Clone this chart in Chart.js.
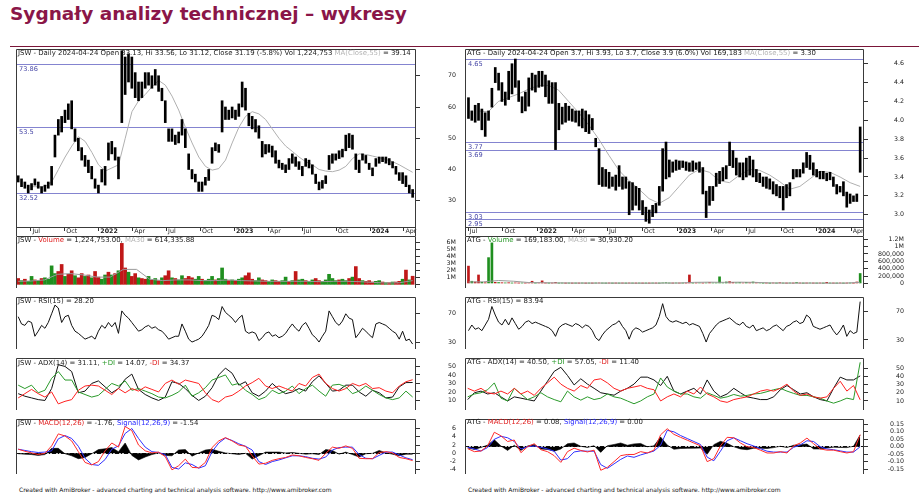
<!DOCTYPE html>
<html lang="pl"><head><meta charset="utf-8">
<script src="https://cdn.jsdelivr.net/npm/chart.js@4.4.1/dist/chart.umd.min.js"></script>
<style>
html,body{margin:0;padding:0;background:#fff;}
body{width:919px;height:497px;overflow:hidden;position:relative;font-family:"DejaVu Sans",sans-serif;}
#title{position:absolute;left:10px;top:3px;font-weight:bold;font-size:18.5px;line-height:22px;color:#8a1648;white-space:nowrap;}
#rule{position:absolute;left:10px;top:46px;width:909px;height:1px;background:#7a1538;}
.hdr{position:absolute;font-size:6.95px;line-height:8px;white-space:nowrap;color:#1a1a1a;z-index:2;}
.foot{position:absolute;font-size:6px;line-height:8px;white-space:nowrap;color:#111;}
.pane{position:absolute;}
.g{color:#b4b4b4}.r{color:#e02020}.gr{color:#2a9a2a}.b{color:#2a2aff}
</style></head>
<body>
<div id="title">Sygnały analizy technicznej – wykresy</div>
<div id="rule"></div>

<div class="hdr" style="left:18px;top:48.7px">JSW - Daily 2024-04-24 Open 33.13, Hi 33.56, Lo 31.12, Close 31.19 (-5.8%) Vol 1,224,753 <span class="g">MA(Close,55)</span> = 39.14</div>
<div class="hdr" style="left:18px;top:236px">JSW - <span class="r">Volume</span> = 1,224,753.00, <span class="g">MA30</span> = 614,335.88</div>
<div class="hdr" style="left:18px;top:297px">JSW - RSI(15) = 28.20</div>
<div class="hdr" style="left:18px;top:358.7px">JSW - ADX(14) = 31.11, <span class="gr">+DI</span> = 14.07, <span class="r">-DI</span> = 34.37</div>
<div class="hdr" style="left:18px;top:418.7px">JSW - <span class="r">MACD(12,26)</span> = -1.76, <span class="b">Signal(12,26,9)</span> = -1.54</div>
<div class="foot" style="left:19px;top:485.5px">Created with AmiBroker - advanced charting and technical analysis software. http://www.amibroker.com</div>

<div class="hdr" style="left:467px;top:48.7px">ATG - Daily 2024-04-24 Open 3.7, Hi 3.93, Lo 3.7, Close 3.9 (6.0%) Vol 169,183 <span class="g">MA(Close,55)</span> = 3.30</div>
<div class="hdr" style="left:467px;top:236px">ATG - <span class="gr">Volume</span> = 169,183.00, <span class="g">MA30</span> = 30,930.20</div>
<div class="hdr" style="left:467px;top:297px">ATG - RSI(15) = 83.94</div>
<div class="hdr" style="left:467px;top:357.7px">ATG - ADX(14) = 40.50, <span class="gr">+DI</span> = 57.05, <span class="r">-DI</span> = 11.40</div>
<div class="hdr" style="left:467px;top:417.7px">ATG - <span class="r">MACD(12,26)</span> = 0.08, <span class="b">Signal(12,26,9)</span> = 0.00</div>
<div class="foot" style="left:468px;top:485.5px">Created with AmiBroker - advanced charting and technical analysis software. http://www.amibroker.com</div>

<script>
// ---------------- DATA ----------------
const quarterNames = ['', 'Apr', 'Jul', 'Oct'];

// JSW
const jswFrom = '2021-05-28', jswTo = '2024-04-24', jswMAFrom = '2021-07-03';
const jswLow = [36,34.5,34,32.5,33.5,35,34,32.5,33,34, 35,44,51,52,55,56,53,49,46,43, 41,39,37,34,32.5,36,35,43,45,43,
 37,55,64,68,66,63,62,63,66,67, 66,67,65,62,55,49,49,48,48.5,51, 47,40,37,36,33,33,35,36.5,42,46,
 45.5,52,56,56,56.5,56,57,60,59,54, 53,52,50,44,45,45.5,44,42,40.5,40, 39,40,42,41,40,38,41,40.5,38.5,35.5,
 33.5,34,35.5,40,42,43,43.5,44,46,47, 46.5,40,39,43,42,40,38,41,42,42.5, 42,41.5,40.5,38.5,36.5,35.5,34.5,32.5,31.1];
const jswHigh = [38,37,36,35,35.5,37,36,34.5,35,36, 41,51,56,57,59,61,62,53,50,47, 44.5,43,41,37,35,40,41,48.5,49,47,
 44,78,76,77,76,71,68,68,71,71, 70,72,70,66,62,53,53,51,52,56, 53,45,40,38.5,36,36,37.5,40,47,48.5,
 48,62,60,59,60,59,61,68,66,58, 57,56,54,49,48,48,47.5,46,43,42, 41.5,43.5,45,44,42.5,41,43.5,43,41.5,38.5,
 36,36.5,38,44.5,45,45,46,46.5,51,51.5, 51,45,43,45,44.5,42,40.5,43.5,44,44, 44,43.5,42.5,41,39,39,38,35,33.6];
const jswMA55 = [34.5,34.5,34.5,36,40,44,47.5,50.5,49,45.5, 41.5,39.5,40.5,41.5,50,58.5,62,64,66.5,68.5,
 67,63.5,59,53.5,48.5,44,41,39.8,40.3,43, 48.5,53.5,57,58.5,57.8,56,53,50,47.5,45.8,
 44,42.5,41.5,40,39.5,39.3,39.8,41,43.5,45, 44.8,44.3,43.8,43.2,42.5,41.5,40.3,39.1];
const jswLevels = [73.86, 53.5, 32.52];
const jswVol = [900,600,800,500,1200,700,600,900,1000,800, 2700,1600,1900,2900,1200,1500,2000,1300,1000,1600,
 1200,1400,1000,1900,1100,800,1400,1800,1400,1600, 2000,5900,2400,1800,1200,1600,1000,900,800,1200,
 700,900,600,1000,1300,2000,1000,900,700,1300, 900,1200,1000,800,1200,800,600,800,1200,700,
 900,2400,800,600,700,600,800,1000,1300,1700, 800,600,1000,700,600,500,700,600,500,600,
 1100,500,600,1900,700,800,600,500,700,900, 600,500,700,1500,900,600,700,800,600,900,
 1100,2600,900,600,500,600,400,500,600,400, 300,300,400,400,500,800,2100,700,1225];
const jswVolDir = ('rgrggrgrgg'+'ggrrgrrgrr'+'grgrrggrgr'+'grrgrrgrrg'+'rgrgrrgrgg'+'rrrggrgggr'+'gggrgrggrr'+'rggrrggrrg'+'grgrggrggr'+'rgggggrggr'+'grrgrrrggr'+'grgrrgrgr').split('');
const jswVolMA = [500,550,700,1500,1600,1400,1100,1100,2200,2200, 800,600,700,700,600,600,700,600,550,500,
 500,500,500,450,500,500,450,350,250,300,600];
const jswRSI = [66,56,54,60,58,39,46,54,50,58, 70,82,78,58,66,68,54,46,43,39, 35,37,39,35,46,54,50,58,52,58,
 43,74,68,64,58,52,46,48,52,54, 50,52,48,46,41,35,37,39,39,56, 46,35,31,33,35,39,46,54,68,66,
 62,80,72,68,64,58,64,68,46,43, 45,43,33,37,43,45,39,41,37,39, 43,50,56,50,46,54,58,50,41,37,
 31,39,46,74,66,58,54,60,70,64, 62,37,43,50,46,41,37,56,58,56, 54,50,46,43,35,46,33,35,28.2];
const jswADX = [18,15,13,11,10,24,52,50,44,19, 21,30,33,26,19,24,35,41,23,17, 13,10,14,32,30,24,16,10,15,25,
 40,48,42,28,32,19,15,21,30,23, 18,20,24,21,32,39,30,21,22,28, 28,20,15,22,19,13,14,26,31,31.11];
const jswPDI = [28,24,28,19,22,36,44,34,34,20, 17,14,16,23,30,27,33,22,24,21, 18,14,13,16,20,28,15,19,25,34,
 37,40,28,30,22,17,11,14,22,18, 21,27,18,24,28,21,15,28,29,26, 18,21,27,22,17,13,11,13,21,14.07];
const jswMDI = [13,18,23,18,14,20,6,9,11,22, 27,28,27,22,17,24,19,24,21,26, 23,20,30,34,29,34,32,30,19,11,
 8,14,16,21,27,31,36,27,24,27, 24,21,30,27,37,41,30,24,21,24, 30,27,30,24,25,21,19,27,32,34.37];
const jswMACD = [1.0,0.5,0.1,-0.3,0.0,1.8,4.7,4.2,3.0,0.4, -2.2,-2.8,-2.0,0.6,2.5,1.5,6.5,5.5,2.0,0.6,
 0.1,0.3,-0.8,-4.0,-3.0,-1.4,-3.4,-3.5,-2.2,1.4, 3.0,3.8,3.0,2.0,1.7,-0.6,-2.6,-2.4,-1.7,-1.3,
 -1.0,-0.4,-0.6,-1.0,-1.3,-1.7,0.0,1.5,1.2,1.8, 1.2,-1.2,-1.3,-1.3,0.2,0.4,0.1,-1.0,-1.3,-1.76];
const jswSignal = [1.0,0.7,0.4,0.2,0.3,0.6,3.5,4.3,3.6,1.7, -1.2,-2.7,-2.9,-1.5,1.0,1.8,4.8,6.0,3.6,1.5,
 0.4,0.2,-0.3,-3.4,-3.8,-2.3,-2.7,-3.6,-3.0,0.4, 2.5,3.7,3.1,2.3,1.7,0.8,-2.0,-2.7,-2.0,-1.6,
 -1.1,-0.6,-0.6,-0.8,-1.2,-1.4,-0.9,0.8,1.4,1.5, 1.5,-0.3,-1.2,-1.3,-0.5,0.3,0.3,-0.4,-1.1,-1.54];
const jswHist = [-0.1,-0.2,-0.3,-0.5,-0.3,1.2,1.2,-0.1,-0.6,-1.3, -1.0,-0.1,0.9,1.1,1.4,0.4,2.5,-0.5,-1.6,-0.9,
 -0.3,0.1,-0.5,-0.6,0.8,0.9,-0.7,0.1,0.8,1.0, 0.5,0.1,-0.1,-0.3,0.0,-1.4,-0.6,0.3,0.3,0.3,
 0.1,0.2,0.0,-0.2,-0.1,-0.3,0.9,0.7,-0.2,0.3, -0.3,-0.9,-0.1,0.0,0.7,0.1,-0.2,-0.6,-0.2,-0.22];

// ATG
const atgFrom = '2021-07-02', atgTo = '2024-04-24', atgMAFrom = '2021-07-28', atgIndFrom = '2021-06-30';
const atgLow = [4.02,4.00,3.98,4.00,3.90,3.83,4.00,4.14,4.40,4.32, 4.20,4.16,4.22,4.28,4.35,4.20,4.08,4.10,4.15,4.32,
 4.30,4.35,4.36,4.25,4.18,4.18,3.69,3.90,3.96,3.98, 4.00,3.99,3.98,3.94,3.92,3.88,3.86,3.90,3.72,3.32,
 3.30,3.30,3.28,3.30,3.26,3.30,3.27,3.28,3.00,3.05, 3.10,3.05,3.00,2.93,2.91,2.98,3.02,3.10,3.25,3.38,
 3.40,3.45,3.47,3.48,3.50,3.47,3.46,3.46,3.48,3.45, 3.22,2.97,3.10,3.15,3.30,3.33,3.36,3.38,3.52,3.50,
 3.42,3.40,3.37,3.40,3.42,3.40,3.35,3.34,3.30,3.28, 3.27,3.22,3.20,3.18,3.05,3.18,3.20,3.38,3.40,3.40,
 3.44,3.50,3.48,3.42,3.40,3.38,3.38,3.36,3.37,3.30, 3.22,3.24,3.20,3.08,3.12,3.14,3.14,3.45];
const atgHigh = [4.24,4.10,4.16,4.18,4.12,4.08,4.10,4.34,4.56,4.50, 4.40,4.30,4.52,4.60,4.65,4.42,4.25,4.30,4.45,4.50,
 4.48,4.52,4.52,4.48,4.42,4.40,4.40,4.18,4.14,4.18, 4.15,4.12,4.10,4.10,4.12,4.10,4.06,4.02,3.81,3.70,
 3.50,3.48,3.45,3.40,3.42,3.52,3.40,3.40,3.35,3.34, 3.30,3.28,3.15,3.08,3.05,3.10,3.12,3.30,3.70,3.77,
 3.58,3.56,3.58,3.57,3.57,3.56,3.55,3.57,3.55,3.56, 3.50,3.25,3.30,3.30,3.44,3.46,3.50,3.52,3.77,3.68,
 3.60,3.55,3.55,3.60,3.62,3.58,3.48,3.44,3.40,3.40, 3.38,3.35,3.32,3.30,3.30,3.32,3.34,3.48,3.48,3.48,
 3.55,3.66,3.63,3.55,3.48,3.46,3.46,3.44,3.45,3.40, 3.32,3.30,3.35,3.24,3.22,3.20,3.22,3.93];
const atgMA55 = [4.10,4.09,4.20,4.24,4.28,4.33,4.37,4.37,4.32,4.20, 4.08,3.95,3.80,3.63,3.47,3.36,3.27,3.17,3.12,3.18,
 3.30,3.42,3.48,3.45,3.36,3.34,3.42,3.48,3.47,3.42, 3.35,3.27,3.30,3.38,3.46,3.45,3.40,3.34,3.30];
const atgLevels = [4.65, 3.77, 3.69, 3.03, 2.95];
const atgVol = [470,60,40,230,30,20,700,1100,30,25, 20,15,20,10,15,10,12,10,15,60, 10,15,70,10,8,10,30,8,10,6,
 8,5,7,6,9,5,8,6,10,12, 8,6,9,5,7,6,8,5,9,7, 6,8,5,7,6,9,8,6,15,20,
 10,8,12,9,10,11,230,10,12,15, 10,14,25,15,15,180,15,40,50,30, 20,25,15,30,20,40,25,15,8,10,
 6,12,8,20,9,7,11,8,25,10, 6,9,12,8,7,10,6,30,9,8, 7,12,6,9,10,8,40,270];
const atgVolDir = ('rgrrgrggrg'+'rgrgrrgrrr'+'grrrgrrggr'+'grgrgrgrgr'+'ggrgrgrgrg'+'rgrgrgrggg'+'grgrgrrgrg'+'rgrgggggrr'+'ggrgrgrggr'+'grgrgrgrgr'+'grgrgrgrgr'+'grgrgrrg').split('');
const atgVolMA = [40,45,80,60,25,20,15,12,10,10, 10,8,8,10,12,30,35,30,35,30, 15,10,10,10,8,8,31];
const atgRSI = [43,51,45,47,43,51,59,77,65,55, 51,59,51,61,53,45,49,55,57,53, 55,53,51,49,47,43,35,47,51,53,
 51,49,53,51,47,51,49,43,33,29, 37,43,47,51,53,57,49,43,31,43, 47,45,41,43,45,47,51,63,81,63,
 57,55,57,55,53,55,51,53,51,49, 39,27,39,45,51,55,57,59,61,57, 53,51,55,49,47,51,43,45,47,43,
 45,49,51,47,43,49,51,55,57,53, 55,65,61,49,47,45,47,49,51,43, 37,43,51,35,43,39,41,83.94];
const atgADX = [11.7,20,22,18.5,20,15,10,15,13.4,11.7, 10,22,34,46,51,41,29.5,37,30.5,25.4,
 20,18.5,17,22,25.4,30.5,39,39,35.6,28.8, 40,22,18.5,22,25.4,18.5,35.6,22,15,18.5,
 25.4,20,15,13.4,11.7,11.7,15,23.7,28.8,23.7, 18.5,20,15,11.7,10,25.4,39,35.6,35.6,40.5];
const atgPDI = [15,18.5,20,23.7,32,13.4,10,25.4,18.5,11.7, 15,20,15,11.7,9,22,15,11,15,11.7,
 13.4,18.5,15,13.4,10,6.6,10,15,18.5,38, 27,22,18.5,18.5,15,13.4,20,16.8,13.4,15,
 17.9,15.8,16.8,18.5,19.2,21.3,23.7,25.4,22,19.2, 16.8,16.8,15,13.4,10,7.3,10,13.4,11.7,57.05];
const atgMDI = [25.4,22,25.4,20,18.5,22,18.5,25.4,18.5,22, 16.8,25.4,32,39,30.5,25.4,22,28.8,25.4,35.6,
 37,32,25.4,22,25.4,27,28.8,25.4,23.7,10, 15,18.5,15,22,18.5,27,18.5,15,10,8.3,
 11.7,13.4,15,18.5,22,23.7,22,25.4,30.5,22, 16.8,18.5,15,13.4,15,25.4,34,22,28.8,11.4];
const atgMACD = [-0.013,-0.033,-0.029,0.006,0.097,0.073,0.035,0.045,-0.040,0.000,
 0.020,-0.020,-0.033,-0.060,-0.105,-0.033,-0.010,-0.025,-0.035,-0.023,
 -0.158,-0.138,-0.100,-0.060,-0.052,-0.052,-0.033,-0.042,-0.023,0.080,
 0.121,0.083,0.063,0.044,0.025,0.006,-0.100,-0.080,0.006,0.063,
 0.060,0.025,0.000,-0.005,-0.023,-0.042,-0.042,-0.033,-0.042,0.006,
 0.025,0.058,0.020,-0.015,-0.023,-0.023,-0.033,-0.042,-0.033,0.08];
const atgSignal = [-0.004,-0.015,-0.029,-0.005,0.050,0.070,0.060,0.035,-0.015,0.000,
 0.005,-0.004,-0.015,-0.030,-0.090,-0.080,-0.035,-0.028,-0.030,-0.030,
 -0.120,-0.145,-0.115,-0.085,-0.062,-0.071,-0.055,-0.042,-0.029,0.010,
 0.110,0.100,0.075,0.055,0.035,0.015,-0.070,-0.094,-0.030,0.040,
 0.060,0.040,0.020,0.005,-0.013,-0.030,-0.036,-0.036,-0.036,-0.004,
 0.012,0.040,0.035,0.000,-0.015,-0.020,-0.028,-0.036,-0.036,0.00];
const atgHist = [-0.009,-0.018,-0.005,0.011,0.047,0.005,-0.025,0.010,-0.025,0.005,
 0.015,-0.016,-0.018,-0.030,-0.015,0.020,0.025,0.003,-0.005,0.007,
 -0.038,0.007,0.015,0.025,0.010,0.019,0.022,0.000,0.006,0.065,
 0.011,-0.017,-0.012,-0.011,-0.010,-0.009,-0.050,0.014,0.036,0.023,
 0.000,-0.015,-0.020,-0.010,-0.010,-0.012,-0.006,0.003,-0.006,0.010,
 0.013,0.018,-0.015,-0.015,-0.008,-0.003,-0.005,-0.006,0.003,0.08];

// tick values
const jswPriceTicks = [30,40,50,60,70];
const atgPriceTicks = [3.0,3.2,3.4,3.6,3.8,4.0,4.2,4.4,4.6];
const jswVolTicks = [0,1000,2000,3000,4000,5000,6000];
const atgVolTicks = [0,200,400,600,800,1000,1200];
const rsiTicks = [30,70];
const adxTicks = [10,20,30,40,50];
const jswMacdTicks = [-4,-2,0,2,4,6];
const atgMacdTicks = [-0.15,-0.1,-0.05,0,0.05,0.1,0.15];

// ---------------- LAYOUT ----------------
const AXW = 40, LABEL_RIGHT = 34, YTICK = 4, XAXH = 9;
const FONT = 'DejaVu Sans', TICK_SIZE = 6.3;
const UP = '#1f8f1f', DOWN = '#c01818';
const LEFT = {x:16, w:400, from:'2021-05-22', to:'2024-05-03'};
const RIGHT = {x:465, w:399, from:'2021-06-23', to:'2024-05-04'};
const ROWS = {
  price:{y:49, h:187, xaxis:true},
  vol:{y:236, h:61}, rsi:{y:297, h:61}, adx:{y:358, h:61}, macd:{y:419, h:64}
};

function monthOf(s){ const [y,m,d]=s.split('-').map(Number); const dim=new Date(y,m,0).getDate(); return (y-2021)*12+(m-1)+(d-1)/dim; }
function series(vals, from, to){ const a=monthOf(from), b=monthOf(to), n=vals.length; return vals.map((v,i)=>({x:a+(b-a)*i/(n-1), y:v})); }
function rangeSeries(lo, hi, from, to){ const a=monthOf(from), b=monthOf(to), n=lo.length; return lo.map((v,i)=>({x:a+(b-a)*i/(n-1), y:[v,hi[i]]})); }
function quarterTicks(a,b){ const t=[]; for(let v=Math.ceil(a/3)*3; v<=b; v+=3) t.push(v); return t; }
function quarterLabel(v){ return v%12===0 ? String(2021+v/12) : quarterNames[(v%12)/3]; }
function commas(n){ return String(n).replace(/\B(?=(\d{3})+(?!\d))/g, ','); }

const mctx = document.createElement('canvas').getContext('2d');
function textW(labels, size){ mctx.font = `normal ${size}px ${FONT}`; return Math.max(0, ...labels.map(t=>mctx.measureText(t).width)); }

const framePlugin = {id:'frame', afterDraw(chart, args, o){
  const {ctx, chartArea:a} = chart;
  const L=a.left+0.5, R=a.right-0.5, T=a.top+0.5;
  const B = o.extend ? chart.height : a.bottom;
  ctx.save(); ctx.strokeStyle='#3a3a3a'; ctx.lineWidth=1; ctx.beginPath();
  ctx.moveTo(L,B); ctx.lineTo(L,T); ctx.lineTo(R,T); ctx.lineTo(R,B);
  if(o.extend){ ctx.moveTo(L,a.bottom+0.5); ctx.lineTo(R,a.bottom+0.5); }
  ctx.stroke(); ctx.restore();
}};
const levelPlugin = {id:'levels', beforeDatasetsDraw(chart, args, o){
  if(!o.values || !o.values.length) return;
  const {ctx, chartArea:a} = chart; const y = chart.scales.y;
  ctx.save();
  o.values.forEach(v=>{
    const py = Math.round(y.getPixelForValue(v))+0.5;
    ctx.strokeStyle='#8484d0'; ctx.lineWidth=1;
    ctx.beginPath(); ctx.moveTo(a.left,py); ctx.lineTo(a.right,py); ctx.stroke();
    ctx.fillStyle='#4a4aa8'; ctx.font=`6.6px ${FONT}`; ctx.textBaseline='top';
    ctx.fillText(String(v), a.left+3, py+1.5);
  });
  ctx.restore();
}};

function makePanel(side, row, cfg){
  const W = side.w + AXW, H = row.h;
  const div = document.createElement('div'); div.className='pane';
  Object.assign(div.style,{left:side.x+'px', top:row.y+'px', width:W+'px', height:H+'px'});
  const cv = document.createElement('canvas'); cv.width=W; cv.height=H;
  cv.style.width=W+'px'; cv.style.height=H+'px'; cv.style.display='block';
  div.appendChild(cv); document.body.appendChild(div);
  const labels = cfg.yTicks.map(cfg.yFmt);
  const pad = LABEL_RIGHT - YTICK - textW(labels, TICK_SIZE);
  const xMin = monthOf(side.from), xMax = monthOf(side.to);
  return new Chart(cv, {
    type:'line',
    data:{datasets:cfg.datasets},
    options:{
      responsive:false, animation:false, events:[], devicePixelRatio:1,
      layout:{padding:0, autoPadding:false},
      plugins:{legend:{display:false}, tooltip:{enabled:false},
        frame:{extend:!!row.xaxis}, levels:{values: cfg.levels || []}},
      scales:{
        x:{type:'linear', min:xMin, max:xMax, offset:false, display:!!row.xaxis,
          afterBuildTicks:s=>{ s.ticks = quarterTicks(xMin,xMax).map(v=>({value:v})); },
          afterFit:s=>{ s.height=XAXH; s.paddingLeft=0; s.paddingRight=0; s.paddingTop=0; s.paddingBottom=0; },
          ticks:{autoSkip:false, maxRotation:0, minRotation:0, align:'start', labelOffset:1.5, padding:-3, color:'#222',
            font:c=>({family:FONT, size:TICK_SIZE, weight:(c.tick && c.tick.value%12===0)?'bold':'normal'}),
            callback:v=>quarterLabel(v)},
          grid:{drawOnChartArea:false, drawTicks:true, tickLength:4, color:'#333', offset:false},
          border:{display:false}},
        y:{type:'linear', position:'right', min:cfg.yMin, max:cfg.yMax,
          afterBuildTicks:s=>{ s.ticks = cfg.yTicks.map(v=>({value:v})); },
          afterFit:s=>{ s.width=AXW; s.paddingTop=0; s.paddingBottom=0; },
          ticks:{autoSkip:false, crossAlign:'far', padding:pad, color:'#222', font:{family:FONT, size:TICK_SIZE}, callback:v=>cfg.yFmt(v)},
          grid:{drawOnChartArea:!!cfg.zeroLine, drawTicks:true, tickLength:YTICK, tickColor:'#333',
            color:c=>(cfg.zeroLine && c.tick && c.tick.value===0) ? '#111' : 'rgba(0,0,0,0)'},
          border:{display:false, dash: cfg.zeroLine ? [4,2,1,2] : []}}
      }
    },
    plugins:[framePlugin, levelPlugin]
  });
}

function line(data, color, w){ return {type:'line', data, borderColor:color, borderWidth:w||1, pointRadius:0, tension:0, fill:false}; }
function bars(data, color, th){ return {type:'bar', data, backgroundColor:color, barThickness:th, borderWidth:0}; }
function hist(data){ return {type:'line', data, borderColor:'#000', borderWidth:0.6, backgroundColor:'#000', pointRadius:0, tension:0, fill:'origin'}; }

// ---------- JSW ----------
makePanel(LEFT, ROWS.price, {yMin:21.6, yMax:78.56, yTicks:jswPriceTicks, yFmt:v=>String(v), levels:jswLevels,
  datasets:[bars(rangeSeries(jswLow, jswHigh, jswFrom, jswTo), '#000', 2), line(series(jswMA55, jswMAFrom, jswTo), '#b0b0b0')]});
makePanel(LEFT, ROWS.vol, {yMin:-450, yMax:6950, yTicks:jswVolTicks, yFmt:v=>v===0?'':(v/1000)+'M',
  datasets:[line(series(jswVolMA, jswFrom, jswTo), '#9a9a9a'), bars(series(jswVol, jswFrom, jswTo), jswVolDir.map(d=>d==='g'?UP:DOWN), 3)]});
makePanel(LEFT, ROWS.rsi, {yMin:21.4, yMax:93.2, yTicks:rsiTicks, yFmt:v=>String(v),
  datasets:[line(series(jswRSI, jswFrom, jswTo), '#111')]});
makePanel(LEFT, ROWS.adx, {yMin:-1.2, yMax:59.9, yTicks:adxTicks, yFmt:v=>String(v),
  datasets:[line(series(jswMDI, jswFrom, jswTo), '#ff2020'), line(series(jswPDI, jswFrom, jswTo), '#2a9a2a'), line(series(jswADX, jswFrom, jswTo), '#111')]});
makePanel(LEFT, ROWS.macd, {yMin:-5.0, yMax:8.3, yTicks:jswMacdTicks, yFmt:v=>String(v), zeroLine:true,
  datasets:[line(series(jswMACD, jswFrom, jswTo), '#ff2a2a'), line(series(jswSignal, jswFrom, jswTo), '#3030ff'), hist(series(jswHist, jswFrom, jswTo))]});

// ---------- ATG ----------
makePanel(RIGHT, ROWS.price, {yMin:2.87, yMax:4.756, yTicks:atgPriceTicks, yFmt:v=>v.toFixed(1), levels:atgLevels,
  datasets:[bars(rangeSeries(atgLow, atgHigh, atgFrom, atgTo), '#000', 2), line(series(atgMA55, atgMAFrom, atgTo), '#b0b0b0')]});
makePanel(RIGHT, ROWS.vol, {yMin:-123, yMax:1286, yTicks:atgVolTicks, yFmt:v=>v>=1000?(v/1000)+'M':commas(v*1000),
  datasets:[line(series(atgVolMA, atgFrom, atgTo), '#9a9a9a'), bars(series(atgVol, atgFrom, atgTo), atgVolDir.map(d=>d==='g'?UP:DOWN), 2)]});
makePanel(RIGHT, ROWS.rsi, {yMin:17.2, yMax:90.4, yTicks:rsiTicks, yFmt:v=>String(v),
  datasets:[line(series(atgRSI, atgFrom, atgTo), '#111')]});
makePanel(RIGHT, ROWS.adx, {yMin:-1.0, yMax:62.3, yTicks:adxTicks, yFmt:v=>String(v),
  datasets:[line(series(atgMDI, atgIndFrom, atgTo), '#ff2020'), line(series(atgPDI, atgIndFrom, atgTo), '#2a9a2a'), line(series(atgADX, atgIndFrom, atgTo), '#111')]});
makePanel(RIGHT, ROWS.macd, {yMin:-0.183, yMax:0.186, yTicks:atgMacdTicks, yFmt:v=>v.toFixed(2), zeroLine:true,
  datasets:[line(series(atgMACD, atgIndFrom, atgTo), '#ff2a2a'), line(series(atgSignal, atgIndFrom, atgTo), '#3030ff'), hist(series(atgHist, atgIndFrom, atgTo))]});
</script>
</body></html>
